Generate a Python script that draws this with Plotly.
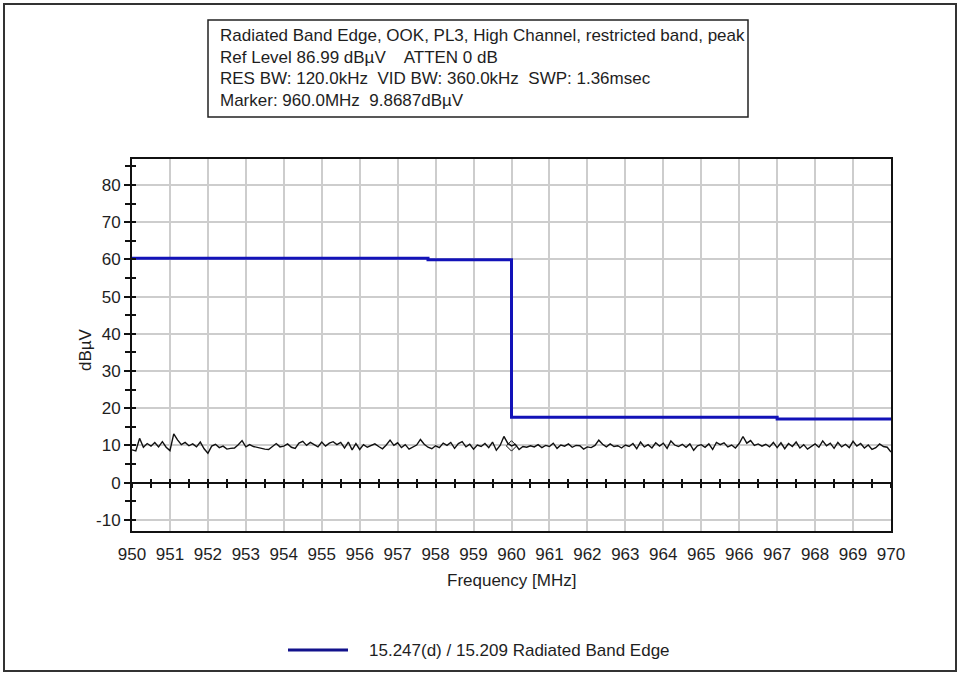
import numpy as np
import plotly.graph_objects as go

# ---------------- data ----------------
x_range = [950, 970]
y_range = [-13.01, 86.99]

y_tick_vals = [-10, 0, 10, 20, 30, 40, 50, 60, 70, 80]
y_tick_text = ["-10", "0", "10", "20", "30", "40", "50", "60", "70", "80"]

blue_freq = [950.0, 957.8, 960.0, 967.0, 970.0]
blue_level = [60.3, 59.9, 17.6, 17.1, 17.1]

noise_freq = np.round(np.linspace(950, 970, 201), 2)
noise_level = [
    8.8, 8.5, 11.9, 9.5, 10.5, 9.8, 10.8, 9.6, 11.0, 9.5,
    8.6, 13.1, 11.5, 10.2, 10.8, 9.9, 10.4, 9.6, 10.9, 9.1,
    7.9, 9.8, 10.3, 9.4, 9.8, 9.0, 9.2, 9.3, 10.2, 11.3,
    9.6, 10.2, 9.7, 9.4, 9.1, 9.0, 8.9, 9.8, 10.5, 9.6,
    9.8, 10.4, 9.5, 9.2, 10.6, 11.1, 10.0, 10.8, 10.3, 9.6,
    10.9, 9.8, 10.6, 11.0, 10.2, 10.8, 9.3, 10.9, 8.8, 10.5,
    8.9, 10.2, 9.5, 9.9, 10.4, 9.7, 9.1, 10.1, 11.4, 10.0,
    10.7, 9.4, 10.2, 9.0, 9.6, 10.1, 11.6, 10.3, 9.5, 9.1,
    9.9, 9.4, 10.6, 10.0, 10.8, 9.2, 10.5, 11.0, 9.6, 10.3,
    9.0, 10.1, 9.7, 10.5, 9.4, 10.9, 8.7, 10.0, 12.4, 10.6,
    9.87, 10.3, 8.9, 9.7, 9.5, 9.9, 9.6, 10.2, 9.4, 10.0,
    9.7, 10.6, 9.2, 10.1, 9.8, 10.4, 9.5, 10.0, 9.9, 9.0,
    9.6, 9.4, 10.0, 11.4, 10.3, 9.6, 10.4, 9.7, 9.9, 9.3,
    10.1, 9.7, 10.5, 9.1, 10.9, 9.6, 10.2, 9.3, 10.7, 9.8,
    10.6, 9.2, 11.2, 10.1, 9.7, 10.3, 9.5, 10.4, 8.7, 9.9,
    10.2, 9.5, 10.4, 8.9, 10.8, 10.2, 10.7, 9.6, 10.1, 9.3,
    10.5, 12.4, 10.6, 11.3, 10.0, 10.4, 9.8, 10.3, 9.6, 10.8,
    9.4, 10.7, 9.1, 10.5, 9.7, 10.9, 9.3, 10.2, 9.0, 9.8,
    10.4, 9.5, 11.2, 9.9, 10.6, 9.2, 10.8, 9.6, 10.3, 9.4,
    11.1, 9.8, 10.5, 9.3, 10.1, 8.9, 9.4, 10.4, 9.7, 9.5,
    8.2,
]

marker_freq = [960.0]
marker_level = [9.8687]

info_lines = [
    "Radiated Band Edge, OOK, PL3, High Channel, restricted band, peak",
    "Ref Level 86.99 dB\u00b5V    ATTEN 0 dB",
    "RES BW: 120.0kHz  VID BW: 360.0kHz  SWP: 1.36msec",
    "Marker: 960.0MHz  9.8687dB\u00b5V",
]
legend_name = "15.247(d) / 15.209 Radiated Band Edge"

# ---------------- layout geometry (pixels) ----------------
W, H = 960, 675
L, R, T, B = 132, 891, 159, 531


def px(xp):
    return (xp - L) / (R - L)


def py(yp):
    return (B - yp) / (B - T)


FONT = "Liberation Sans, Arial, sans-serif"
TXT = "#1e1e1e"
FS = 17
zero_pos = (0 - y_range[0]) / (y_range[1] - y_range[0])

fig = go.Figure()

fig.add_trace(go.Scatter(
    x=noise_freq, y=noise_level, mode="lines",
    line=dict(color="#111111", width=1.4),
    showlegend=False, hoverinfo="skip",
))
fig.add_trace(go.Scatter(
    x=marker_freq, y=marker_level, mode="markers",
    marker=dict(symbol="diamond-open", size=8, color="#111111", line=dict(width=1)),
    showlegend=False, hoverinfo="skip",
))
fig.add_trace(go.Scatter(
    x=blue_freq, y=blue_level, mode="lines", line_shape="hv",
    line=dict(color="#1212b8", width=3),
    name=legend_name, showlegend=False,
))
# invisible helpers so overlay axes render
for xa, ya in [("x2", "y"), ("x3", "y"), ("x", "y2")]:
    fig.add_trace(go.Scatter(x=[960], y=[0], xaxis=xa, yaxis=ya, mode="markers",
                             marker=dict(opacity=0), showlegend=False, hoverinfo="skip"))

fig.update_layout(
    width=W, height=H,
    margin=dict(l=L, r=W - R, t=T, b=H - B),
    paper_bgcolor="white", plot_bgcolor="white",
    font=dict(family=FONT, size=FS, color=TXT),
    showlegend=False,
    xaxis=dict(
        range=x_range, dtick=1, tick0=950,
        showgrid=True, gridcolor="#cdcdcd", gridwidth=1.6,
        showline=True, linecolor="#111111", linewidth=2, mirror=True,
        ticks="", zeroline=False, ticklabelstandoff=7,
        tickfont=dict(size=FS, color=TXT),
    ),
    xaxis2=dict(
        overlaying="x", anchor="free", position=zero_pos,
        range=x_range, dtick=0.5, tick0=950, showgrid=False, zeroline=False,
        showline=True, linecolor="#111111", linewidth=2,
        ticks="outside", ticklen=4, tickwidth=2, tickcolor="#111111",
        showticklabels=False,
    ),
    xaxis3=dict(
        overlaying="x", anchor="free", position=zero_pos,
        range=x_range, dtick=0.5, tick0=950, showgrid=False, zeroline=False,
        showline=False, ticks="inside", ticklen=4, tickwidth=2, tickcolor="#111111",
        showticklabels=False,
    ),
    yaxis=dict(
        range=y_range, tickmode="array", tickvals=y_tick_vals, ticktext=y_tick_text,
        showgrid=True, gridcolor="#cdcdcd", gridwidth=1.6,
        showline=True, linecolor="#111111", linewidth=2, mirror=True,
        ticks="outside", ticklen=6, tickwidth=2, tickcolor="#111111",
        minor=dict(dtick=5, tick0=0, ticks="outside", ticklen=5, tickwidth=2, tickcolor="#111111", showgrid=False),
        zeroline=False, ticklabelstandoff=0,
        tickfont=dict(size=FS, color=TXT),
    ),
    yaxis2=dict(
        overlaying="y", side="left", range=y_range, dtick=5, tick0=0,
        showgrid=False, zeroline=False, showline=False,
        ticks="inside", ticklen=4, tickwidth=2, tickcolor="#111111",
        showticklabels=False,
    ),
)

# info box
fig.add_shape(type="rect", xref="paper", yref="paper",
              x0=px(208), x1=px(748), y0=py(20), y1=py(117),
              line=dict(color="#222222", width=1.5), fillcolor="white", layer="above")
for i, line in enumerate(info_lines):
    fig.add_annotation(xref="paper", yref="paper", x=px(218), y=py(35 + 22 * i),
                       xanchor="left", yanchor="middle", text=line, showarrow=False,
                       font=dict(size=FS, color=TXT, family=FONT))

# legend (line sample + label)
fig.add_shape(type="line", xref="paper", yref="paper",
              x0=px(288), x1=px(348), y0=py(650), y1=py(650),
              line=dict(color="#12128c", width=3))
fig.add_annotation(xref="paper", yref="paper", x=px(367), y=py(650), text=legend_name,
                   showarrow=False, xanchor="left", yanchor="middle",
                   font=dict(size=FS, color=TXT))

# axis titles
fig.add_annotation(xref="paper", yref="paper", x=px(511), y=py(580), text="Frequency [MHz]",
                   showarrow=False, xanchor="center", yanchor="middle",
                   font=dict(size=FS, color=TXT))
fig.add_annotation(xref="paper", yref="paper", x=px(85), y=py(350), text="dB\u00b5V",
                   showarrow=False, textangle=-90, xanchor="center", yanchor="middle",
                   font=dict(size=FS, color=TXT))

# outer frame
fig.add_shape(type="rect", xref="paper", yref="paper",
              x0=px(4), x1=px(956), y0=py(4), y1=py(671),
              line=dict(color="#333333", width=2), layer="above")

fig.write_html("out.html", config={"displayModeBar": False},
               post_script="document.body.style.margin='0';")
